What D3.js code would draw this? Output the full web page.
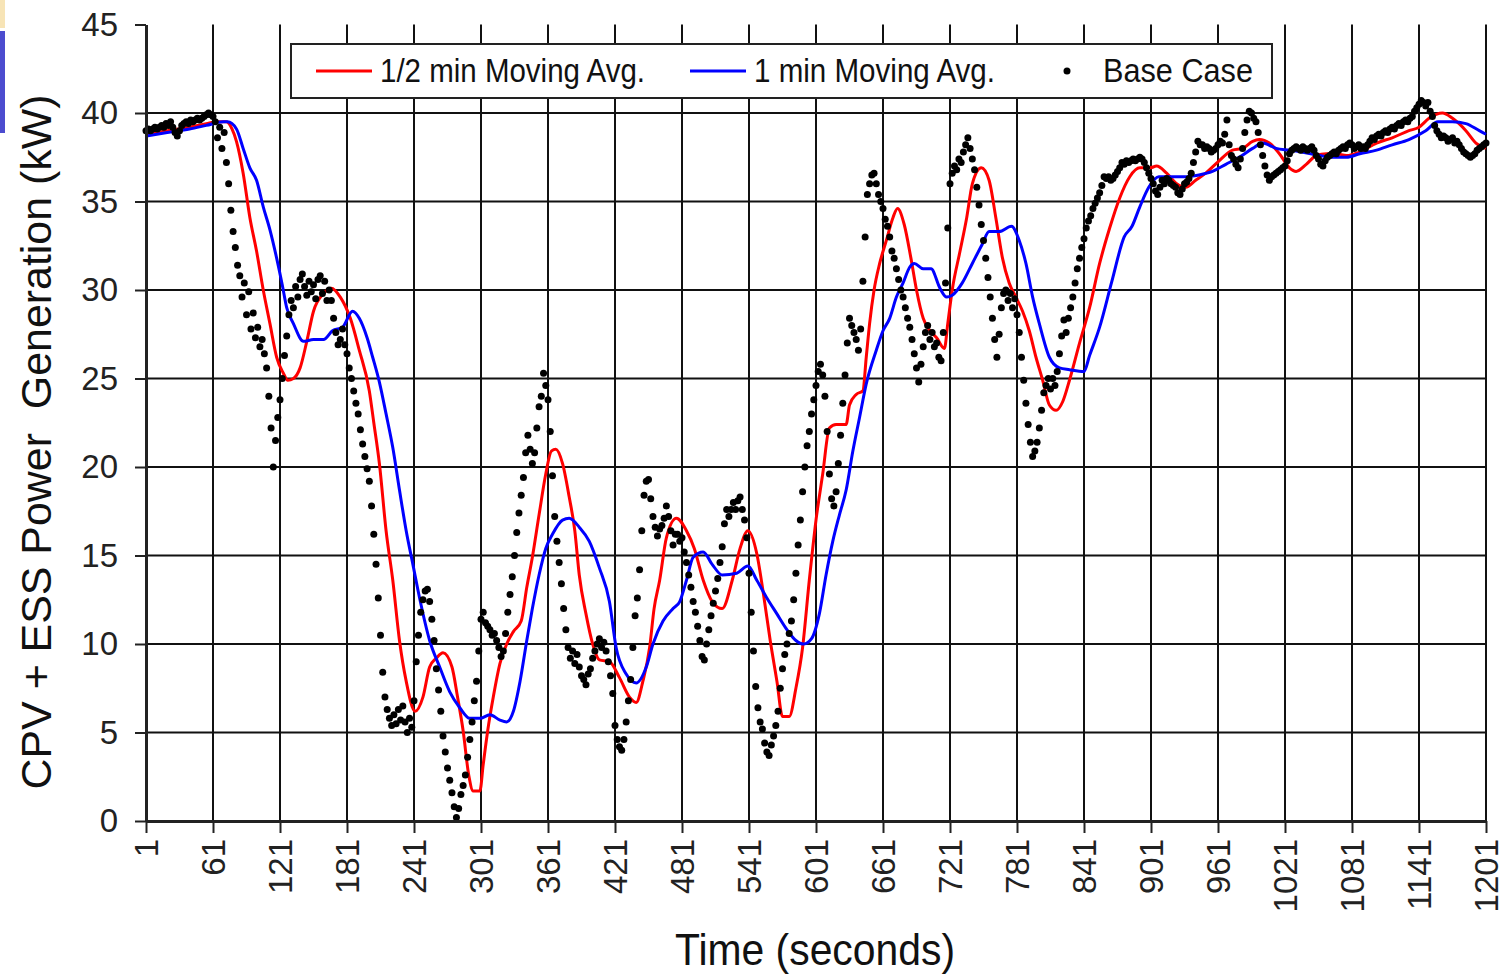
<!DOCTYPE html>
<html>
<head>
<meta charset="utf-8">
<script src="https://cdn.jsdelivr.net/npm/d3@7"></script>
<style>
  html, body { margin: 0; padding: 0; background: #fff; }
  svg { display: block; }
  text { font-family: "Liberation Sans", Arial, sans-serif; }
</style>
</head>
<body>
<svg id="chart" width="1505" height="974"></svg>
<script>
// ---- data -------------------------------------------------------------
// Tick values on the time axis (seconds) and power axis (kW)
const timeTicks = [1, 61, 121, 181, 241, 301, 361, 421, 481, 541, 601, 661, 721, 781, 841, 901, 961, 1021, 1081, 1141, 1201];
const powerTicks = [0, 5, 10, 15, 20, 25, 30, 35, 40, 45];

// Base case power, one sample every 2 s starting at t = 1 s (kW)
const baseStepSeconds = 2;
const baseCaseKw = [
  39.0, 39.1, 39.0, 39.1, 39.2, 39.1, 39.2, 39.3, 39.2, 39.4, 39.3, 39.5, 39.2, 38.9, 38.7, 39.0, 39.3, 39.4, 39.5, 39.4, 39.6, 39.5, 39.6, 39.7, 39.6, 39.7, 39.8, 39.9, 40.0, 39.9,
  39.8, 39.5, 38.6, 39.2, 38.0, 38.9, 37.2, 36.0, 34.5, 33.3, 32.4, 31.4, 30.8, 29.6, 30.4, 28.6, 29.9, 27.8, 28.7, 27.3, 27.9, 26.8, 27.2, 26.4, 25.6, 24.0, 22.2, 20.0, 21.5, 22.8,
  23.8, 25.0, 26.3, 27.4, 28.6, 29.4, 29.0, 30.2, 29.6, 30.6, 30.9, 30.2, 29.7, 30.5, 29.9, 30.3, 29.5, 30.6, 30.8, 29.8, 30.5, 29.4, 30.0, 29.4, 28.4, 27.6, 26.9, 27.2, 27.8, 26.9,
  26.4, 25.6, 25.0, 24.3, 23.6, 23.0, 22.1, 21.3, 20.6, 19.9, 19.2, 17.8, 16.2, 14.5, 12.6, 10.5, 8.4, 7.0, 6.3, 5.8, 5.4, 6.0, 5.5, 6.3, 5.7, 6.5, 5.6, 5.0, 5.8, 5.3,
  6.8, 9.0, 10.5, 11.8, 12.5, 13.0, 13.1, 12.4, 11.4, 10.2, 8.6, 7.4, 6.2, 4.8, 3.9, 3.0, 2.3, 1.6, 0.8, 0.2, 0.7, 1.5, 2.0, 2.6, 3.6, 4.6, 5.6, 6.8, 7.9, 9.6,
  11.4, 11.8, 11.2, 11.0, 10.8, 10.5, 10.6, 10.2, 9.8, 9.3, 9.6, 10.6, 11.8, 12.8, 13.8, 15.0, 16.3, 17.4, 18.4, 19.4, 20.8, 21.8, 21.0, 20.2, 20.8, 22.2, 23.4, 24.0, 25.3, 24.6,
  23.8, 22.0, 19.5, 17.2, 15.8, 14.6, 13.4, 12.0, 10.8, 9.8, 9.2, 9.6, 8.9, 9.4, 8.7, 8.2, 8.0, 7.7, 8.3, 8.6, 9.2, 9.6, 10.0, 10.3, 9.8, 10.1, 9.6, 9.0, 8.2, 7.2,
  5.4, 4.6, 4.2, 4.0, 4.6, 5.6, 6.8, 8.0, 9.8, 11.6, 12.6, 14.2, 16.4, 18.4, 19.2, 19.3, 18.2, 17.2, 16.6, 16.1, 16.5, 16.7, 17.1, 17.8, 17.2, 16.4, 15.6, 16.2, 16.2, 15.8,
  16.0, 15.2, 14.6, 13.9, 13.2, 12.4, 11.8, 11.0, 10.2, 9.3, 9.1, 10.0, 10.8, 11.6, 12.3, 13.0, 13.7, 14.6, 15.5, 16.8, 17.6, 17.2, 17.6, 18.0, 17.6, 18.1, 18.3, 17.6, 17.0, 16.0,
  14.0, 11.8, 9.6, 7.6, 6.4, 5.6, 5.2, 4.4, 3.9, 3.7, 4.3, 4.8, 5.4, 6.2, 7.5, 8.6, 9.4, 10.0, 10.6, 11.3, 12.5, 14.0, 15.6, 17.0, 18.6, 20.0, 21.2, 22.0, 23.0, 23.8,
  24.6, 25.4, 25.8, 25.2, 24.0, 22.0, 19.6, 18.2, 17.8, 18.6, 20.2, 21.8, 23.6, 25.2, 27.0, 28.4, 28.0, 27.6, 27.2, 26.6, 27.8, 30.5, 33.0, 35.4, 36.0, 36.5, 36.6, 36.0, 35.4, 35.0,
  34.6, 34.0, 33.6, 33.0, 32.2, 31.8, 31.2, 30.6, 30.0, 29.6, 29.0, 28.4, 27.9, 27.2, 26.4, 25.6, 24.8, 25.8, 26.8, 27.6, 28.0, 27.2, 27.6, 26.8, 27.0, 26.2, 26.0, 27.6, 30.4, 33.5,
  36.0, 36.6, 37.0, 36.8, 37.4, 37.2, 37.8, 38.2, 38.6, 38.0, 37.4, 36.8, 35.8, 34.8, 33.7, 32.8, 31.8, 30.7, 29.6, 28.4, 27.2, 26.2, 27.5, 29.0, 29.8, 30.0, 29.4, 29.8, 29.0, 29.5,
  28.6, 27.6, 26.2, 24.9, 23.6, 22.4, 21.4, 20.6, 20.9, 21.4, 22.2, 23.2, 24.2, 24.6, 25.0, 24.4, 25.0, 24.6, 25.4, 26.4, 27.4, 28.3, 27.6, 28.4, 29.0, 29.6, 30.4, 31.2, 31.8, 32.4,
  32.9, 33.5, 33.9, 34.2, 34.6, 34.9, 35.2, 35.5, 35.9, 36.4, 36.3, 36.4, 36.2, 36.3, 36.5, 36.7, 36.9, 37.2, 37.1, 37.3, 37.2, 37.3, 37.4, 37.3, 37.4, 37.5, 37.4, 37.2, 36.9, 36.6,
  36.3, 36.0, 35.6, 35.4, 35.8, 36.2, 36.0, 36.3, 36.2, 36.0, 35.9, 35.8, 35.5, 35.4, 35.7, 36.0, 36.1, 36.3, 36.6, 37.2, 37.8, 38.4, 38.2, 38.2, 38.0, 38.1, 38.0, 37.8, 37.9, 38.0,
  38.2, 38.4, 38.3, 38.8, 39.6, 38.2, 37.6, 37.4, 37.1, 36.9, 37.4, 38.0, 38.9, 39.6, 40.1, 40.0, 39.7, 39.5, 38.9, 38.2, 37.6, 37.0, 36.5, 36.2, 36.4, 36.5, 36.6, 36.7, 36.8, 36.9,
  37.0, 37.3, 37.7, 37.9, 38.0, 38.1, 38.0, 37.9, 38.1, 38.0, 37.9, 38.0, 38.1, 37.9, 37.6, 37.4, 37.1, 37.0, 37.3, 37.5, 37.6, 37.7, 37.8, 37.7, 37.9, 38.0, 38.1, 38.0, 38.2, 38.3,
  38.2, 38.0, 38.1, 38.2, 38.0, 38.1, 38.0, 38.2, 38.4, 38.6, 38.5, 38.7, 38.8, 38.7, 38.9, 39.0, 38.9, 39.1, 39.2, 39.1, 39.3, 39.4, 39.3, 39.5, 39.6, 39.5, 39.7, 39.8, 40.1, 40.3,
  40.5, 40.7, 40.6, 40.4, 40.6, 40.1, 39.8, 39.3, 39.0, 38.8, 38.6, 38.7, 38.6, 38.4, 38.5, 38.6, 38.3, 38.4, 38.2, 38.0, 37.8, 37.7, 37.6, 37.5, 37.6, 37.7, 37.9, 38.0, 38.1, 38.2,
  38.3
];

// 1/2 min moving average: [time s, kW]
const halfMinAvg = [
  [1, 38.8], [20, 39.0], [40, 39.2], [55, 39.4], [65, 39.5], [73, 39.5], [78, 39.1], [82, 38.4], [88, 36.6], [94, 34.1],
  [100, 32.2], [106, 30.0], [112, 28.1], [118, 26.2], [124, 25.3], [128, 24.9], [133, 25.0], [139, 25.6], [145, 27.1], [151, 28.8],
  [160, 29.8], [167, 30.1], [175, 29.6], [184, 28.4], [192, 26.6], [201, 24.3], [205, 22.5], [210, 20.2], [216, 16.4], [222, 13.6],
  [228, 10.2], [234, 7.9], [242, 6.2], [249, 7.0], [255, 8.7], [261, 9.2], [267, 9.5], [275, 8.7], [280, 7.0], [285, 5.1],
  [290, 2.6], [294, 1.7], [300, 1.7], [303, 3.2], [307, 5.1], [312, 7.0], [318, 8.9], [324, 10.0], [330, 10.7], [337, 11.3],
  [342, 13.2], [347, 14.9], [353, 17.3], [359, 19.6], [364, 20.9], [368, 21.0], [374, 20.2], [380, 18.3], [385, 16.4], [389, 13.9],
  [395, 11.7], [401, 10.0], [407, 9.1], [416, 9.0], [425, 8.1], [434, 7.0], [440, 6.7], [446, 7.9], [452, 9.8], [456, 12.0],
  [461, 13.6], [467, 16.0], [476, 17.1], [485, 16.4], [492, 15.4], [500, 13.6], [508, 12.4], [517, 12.0], [526, 13.6], [533, 15.4],
  [540, 16.4], [548, 15.1], [554, 12.8], [560, 10.2], [566, 7.9], [571, 5.9], [577, 5.9], [583, 7.5], [589, 9.8], [595, 13.6],
  [601, 17.0], [607, 19.6], [613, 22.2], [619, 22.4], [628, 22.4], [631, 23.5], [637, 24.1], [643, 24.3], [646, 26.2], [649, 28.1],
  [653, 30.0], [658, 31.5], [664, 32.8], [670, 34.1], [674, 34.6], [680, 33.7], [686, 31.8], [691, 30.0], [697, 28.4], [703, 27.7],
  [709, 27.3], [716, 26.7], [719, 28.1], [723, 30.0], [730, 32.2], [736, 34.1], [741, 36.0], [749, 36.9], [756, 36.2], [762, 34.1],
  [768, 31.8], [774, 30.4], [780, 29.6], [786, 28.8], [792, 27.7], [798, 26.2], [804, 24.9], [810, 23.5], [816, 23.2], [822, 23.7],
  [828, 24.9], [837, 27.0], [846, 29.0], [855, 31.5], [864, 33.5], [873, 35.2], [882, 36.4], [891, 36.9], [900, 36.9], [906, 37.0],
  [915, 36.6], [924, 36.0], [932, 35.8], [941, 36.2], [950, 36.6], [962, 37.3], [974, 37.9], [983, 38.0], [992, 38.4], [998, 38.5],
  [1007, 38.3], [1016, 37.7], [1025, 36.9], [1031, 36.7], [1040, 37.1], [1049, 37.6], [1058, 37.7], [1067, 37.7], [1076, 37.6], [1088, 37.8],
  [1103, 38.3], [1117, 38.6], [1132, 39.0], [1141, 39.2], [1150, 39.7], [1162, 40.0], [1171, 39.7], [1183, 39.0], [1192, 38.3], [1201, 38.0]
];

// 1 min moving average: [time s, kW]
const oneMinAvg = [
  [1, 38.7], [20, 38.9], [40, 39.1], [55, 39.3], [70, 39.5], [74, 39.5], [82, 39.1], [88, 38.0], [94, 36.9], [100, 36.2],
  [106, 34.7], [112, 33.4], [118, 31.8], [123, 30.3], [127, 29.0], [133, 28.1], [142, 27.1], [151, 27.2], [160, 27.2], [168, 27.7],
  [177, 27.9], [186, 28.8], [192, 28.4], [199, 27.3], [204, 26.2], [210, 24.8], [216, 23.0], [222, 21.1], [228, 18.7], [234, 16.4],
  [240, 14.5], [246, 12.6], [255, 10.2], [264, 8.7], [273, 7.3], [282, 6.4], [291, 5.8], [300, 5.8], [309, 6.0], [318, 5.7],
  [324, 5.6], [330, 6.2], [336, 7.9], [342, 10.2], [347, 12.0], [353, 13.9], [359, 15.4], [365, 16.2], [374, 17.0], [380, 17.1],
  [389, 16.6], [398, 15.8], [407, 14.3], [416, 12.4], [422, 9.8], [431, 8.3], [440, 7.8], [449, 8.7], [455, 10.0], [464, 11.3],
  [473, 12.0], [479, 12.4], [485, 13.6], [491, 14.9], [500, 15.2], [508, 14.5], [517, 13.9], [530, 14.0], [540, 14.4], [548, 13.6],
  [557, 12.6], [566, 11.7], [574, 10.9], [583, 10.2], [590, 10.0], [597, 10.3], [604, 11.7], [610, 13.9], [616, 15.8], [622, 17.3],
  [628, 18.7], [634, 20.9], [640, 22.8], [646, 24.7], [655, 26.6], [661, 27.7], [667, 28.4], [673, 29.6], [679, 30.4], [685, 31.3],
  [689, 31.5], [697, 31.2], [704, 31.2], [712, 30.1], [718, 29.6], [723, 29.7], [732, 30.4], [741, 31.5], [750, 32.6], [756, 33.3],
  [765, 33.3], [776, 33.6], [783, 32.8], [789, 31.5], [795, 29.6], [801, 28.1], [810, 26.2], [819, 25.6], [828, 25.5], [841, 25.4],
  [846, 26.3], [855, 27.9], [866, 30.5], [877, 33.0], [884, 33.6], [891, 34.7], [899, 35.8], [908, 36.4], [920, 36.4], [932, 36.4],
  [944, 36.5], [956, 36.7], [968, 37.1], [980, 37.5], [992, 38.0], [1001, 38.3], [1013, 38.0], [1025, 37.9], [1036, 37.8], [1052, 37.6],
  [1063, 37.5], [1076, 37.5], [1088, 37.7], [1103, 37.9], [1117, 38.2], [1132, 38.5], [1147, 39.0], [1158, 39.5], [1171, 39.5], [1183, 39.4],
  [1195, 39.0], [1201, 38.8]
];

const legendLabels = ["1/2 min Moving Avg.", "1 min Moving Avg.", "Base Case"];
const xTitle = "Time (seconds)";
const yTitle = "CPV + ESS Power  Generation (kW)";

// ---- layout -----------------------------------------------------------
const svg = d3.select("#chart");
const plot = { left: 146, right: 1486, top: 24.5, bottom: 821 };

const x = d3.scaleLinear().domain([1, 1201]).range([plot.left, plot.right]);
const y = d3.scaleLinear().domain([0, 45]).range([plot.bottom, plot.top]);

svg.append("rect").attr("width", 1505).attr("height", 974).attr("fill", "#fff");

// slide edge remnants at the far left
svg.append("rect").attr("x", 0).attr("y", 0).attr("width", 5).attr("height", 28).attr("fill", "#f7e4b6");
svg.append("rect").attr("x", 0).attr("y", 31).attr("width", 5).attr("height", 102).attr("fill", "#4c4ccf");

// ---- grid -------------------------------------------------------------
const grid = svg.append("g").attr("stroke", "#111").attr("stroke-width", 2);
grid.selectAll("line.v").data(timeTicks.slice(1)).join("line")
  .attr("class", "v")
  .attr("x1", d => x(d)).attr("x2", d => x(d))
  .attr("y1", y(45)).attr("y2", y(0));
grid.selectAll("line.h").data(powerTicks.filter(d => d > 0 && d < 45)).join("line")
  .attr("class", "h")
  .attr("x1", x(1)).attr("x2", x(1201))
  .attr("y1", d => y(d)).attr("y2", d => y(d));

// ---- series -----------------------------------------------------------
const line = d3.line()
  .x(d => x(d[0]))
  .y(d => y(d[1]))
  .curve(d3.curveMonotoneX);

svg.append("path").datum(halfMinAvg)
  .attr("d", line).attr("fill", "none")
  .attr("stroke", "#ff0000").attr("stroke-width", 3).attr("stroke-linejoin", "round");

svg.append("path").datum(oneMinAvg)
  .attr("d", line).attr("fill", "none")
  .attr("stroke", "#0000ff").attr("stroke-width", 3).attr("stroke-linejoin", "round");

const basePoints = baseCaseKw.map((v, i) => [1 + i * baseStepSeconds, v]);
svg.append("g").selectAll("circle").data(basePoints).join("circle")
  .attr("cx", d => x(d[0]))
  .attr("cy", d => y(d[1]))
  .attr("r", 3.5)
  .attr("fill", "#000");

// ---- axes -------------------------------------------------------------
const yAxis = d3.axisLeft(y).tickValues(powerTicks).tickSize(11).tickSizeOuter(0).tickPadding(17);
const gy = svg.append("g").attr("transform", `translate(${plot.left},0)`).call(yAxis);
gy.select(".domain").attr("stroke", "#222").attr("stroke-width", 3);
gy.selectAll(".tick line").attr("stroke", "#222").attr("stroke-width", 2);
gy.selectAll(".tick text")
  .attr("font-size", 33).attr("fill", "#222")
  .attr("font-family", "'Liberation Sans', Arial, sans-serif");

const xAxis = d3.axisBottom(x).tickValues(timeTicks).tickFormat(d3.format("d")).tickSize(12).tickSizeOuter(0);
const gx = svg.append("g").attr("transform", `translate(0,${plot.bottom})`).call(xAxis);
gx.select(".domain").attr("stroke", "#222").attr("stroke-width", 3);
gx.selectAll(".tick line").attr("stroke", "#222").attr("stroke-width", 2);
gx.selectAll(".tick text")
  .attr("font-size", 33).attr("fill", "#222")
  .attr("font-family", "'Liberation Sans', Arial, sans-serif")
  .attr("text-anchor", "end")
  .attr("x", 0).attr("y", 0)
  .attr("dy", "0.35em")
  .attr("transform", "translate(0,18) rotate(-90)");

// ---- titles -----------------------------------------------------------
svg.append("text")
  .attr("x", 815).attr("y", 965)
  .attr("text-anchor", "middle")
  .attr("font-size", 44).attr("fill", "#111")
  .attr("textLength", 280).attr("lengthAdjust", "spacingAndGlyphs")
  .text(xTitle);

svg.append("text")
  .attr("transform", "translate(51,442) rotate(-90)")
  .attr("text-anchor", "middle")
  .attr("font-size", 42).attr("fill", "#111")
  .style("white-space", "pre")
  .attr("textLength", 695).attr("lengthAdjust", "spacingAndGlyphs")
  .text(yTitle);

// ---- legend -----------------------------------------------------------
const legend = svg.append("g");
legend.append("rect")
  .attr("x", 291).attr("y", 44).attr("width", 981).attr("height", 54)
  .attr("fill", "#fff").attr("stroke", "#222").attr("stroke-width", 2);

const legendItems = [
  { label: legendLabels[0], kind: "line", color: "#ff0000", sx: 316, tx: 380, tw: 265 },
  { label: legendLabels[1], kind: "line", color: "#0000ff", sx: 690, tx: 754, tw: 241 },
  { label: legendLabels[2], kind: "dot", color: "#000", sx: 1067, tx: 1103, tw: 150 }
];
legendItems.forEach(it => {
  if (it.kind === "line") {
    legend.append("line")
      .attr("x1", it.sx).attr("x2", it.sx + 56)
      .attr("y1", 71).attr("y2", 71)
      .attr("stroke", it.color).attr("stroke-width", 3);
  } else {
    legend.append("circle").attr("cx", it.sx).attr("cy", 71).attr("r", 3.5).attr("fill", it.color);
  }
  legend.append("text")
    .attr("x", it.tx).attr("y", 82)
    .attr("font-size", 34).attr("fill", "#111")
    .attr("textLength", it.tw).attr("lengthAdjust", "spacingAndGlyphs")
    .text(it.label);
});
</script>
</body>
</html>
